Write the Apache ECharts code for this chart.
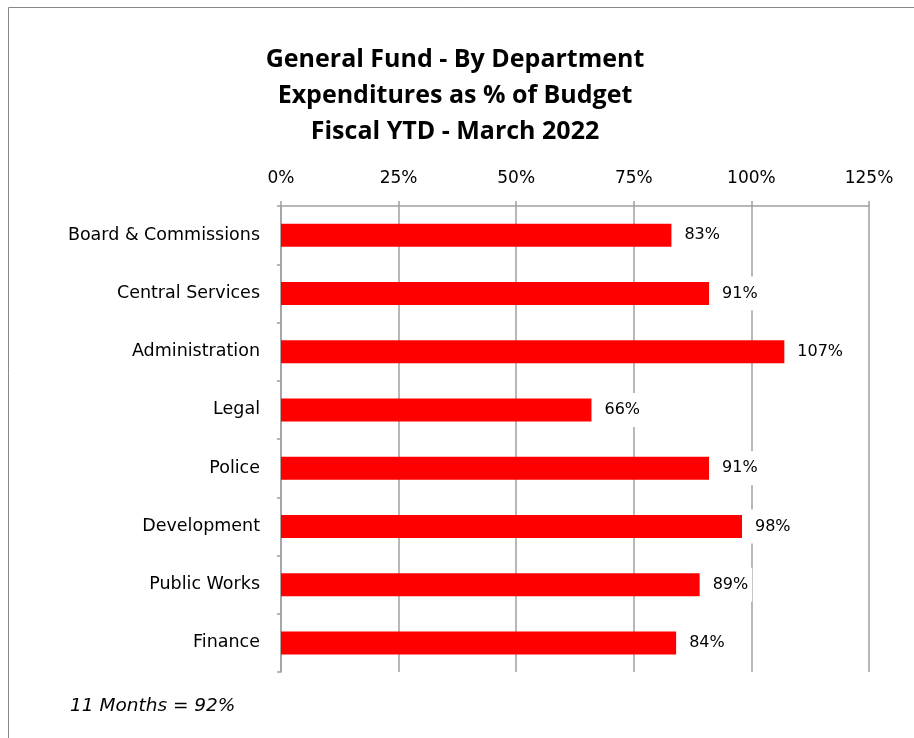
<!DOCTYPE html>
<html><head><meta charset="utf-8">
<script src="https://cdn.jsdelivr.net/npm/echarts@6/dist/echarts.min.js"></script>
<style>html,body{margin:0;padding:0;background:#fff}#c{width:914px;height:738px}</style>
</head><body><div id="c"></div>
<script>
var categories = ["Board & Commissions", "Central Services", "Administration", "Legal", "Police", "Development", "Public Works", "Finance"];
var values = [83, 91, 107, 66, 91, 98, 89, 84];
var tickValues = [0, 25, 50, 75, 100, 125];
var titleLines = ["General Fund - By Department", "Expenditures as % of Budget", "Fiscal YTD - March 2022"];
var footnote = "11 Months = 92%";

var chart = echarts.init(document.getElementById('c'));
var font = "'DejaVu Sans', sans-serif";
chart.setOption({
  animation: false,
  backgroundColor: '#fff',
  title: {
    text: titleLines.join('\n'),
    left: 450, top: 37, textAlign: 'center',
    textStyle: {fontFamily: "'Open Sans', sans-serif", fontWeight: 'bold', fontSize: 25, lineHeight: 36, color: '#000'}
  },
  graphic: [
    {type: 'rect', shape: {x: 8.5, y: 7.5, width: 920, height: 740}, style: {fill: 'none', stroke: '#888', lineWidth: 1}, z: -1},
    {type: 'text', left: 70, top: 697, style: {text: footnote, font: "italic 18.5px 'DejaVu Sans', sans-serif", fill: '#000'}}
  ],
  grid: {left: 281, top: 206, right: 45, bottom: 66},
  xAxis: {
    type: 'value', position: 'top', min: 0, max: 125, interval: 25,
    axisLine: {show: true, lineStyle: {color: '#a0a0a0', width: 1.5}},
    axisTick: {show: true, length: 5, lineStyle: {color: '#a0a0a0', width: 1.5}},
    splitLine: {show: true, lineStyle: {color: '#a0a0a0', width: 1.5}},
    axisLabel: {formatter: function(v){return v + '%';}, fontFamily: font, fontSize: 17, color: '#000', margin: 19}
  },
  yAxis: {
    type: 'category', data: categories, inverse: true,
    axisLine: {show: true, lineStyle: {color: '#a0a0a0', width: 1.5}},
    axisTick: {show: true, length: 4, lineStyle: {color: '#a0a0a0', width: 1.5}},
    axisLabel: {fontFamily: font, fontSize: 17.5, color: '#000', margin: 21, padding: [4, 0, 0, 0]}
  },
  series: [{
    type: 'bar', data: values, barWidth: 23,
    itemStyle: {color: '#ff0000'},
    label: {show: true, position: 'right', distance: 9, formatter: '{c}%', fontFamily: font, fontSize: 16, color: '#000',
      backgroundColor: '#fff', padding: [11, 4, 7, 4]}
  }]
});
</script></body></html>
